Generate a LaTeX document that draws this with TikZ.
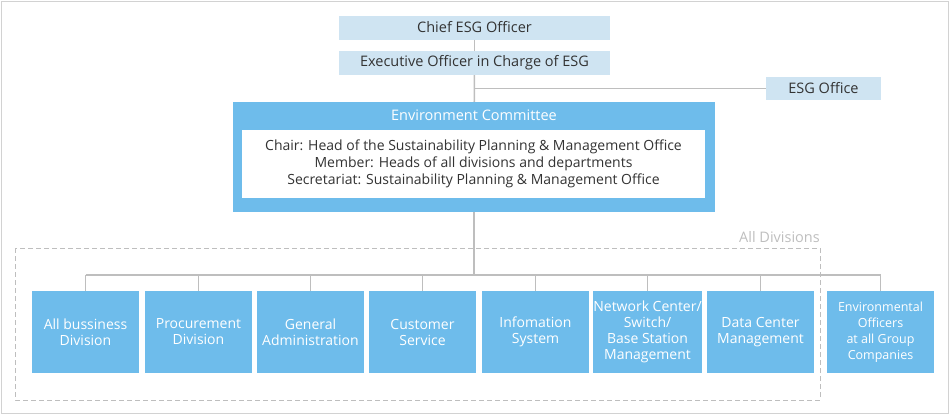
\documentclass[tikz,border=0pt]{standalone}
\usepackage{fontspec}
\setmainfont{Open Sans}
\usepackage{xcolor}
\usepackage{tikz}

\definecolor{esgpale}{HTML}{CFE4F2}
\definecolor{esgblue}{HTML}{6EBCEB}
\definecolor{esgline}{HTML}{BEBEBE}
\definecolor{esgtext}{HTML}{333333}

\begin{document}
\begin{tikzpicture}[x=1pt, y=-1pt,
    officer/.style={fill=esgpale, text=esgtext, minimum width=271pt, minimum height=24pt, inner sep=0pt, font=\fontsize{14.5}{16}\selectfont},
    unit/.style={fill=esgblue, text=white, minimum width=107pt, minimum height=82pt, inner sep=0pt, align=center, font=\fontsize{14}{16}\selectfont},
    link/.style={draw=esgline, line width=1.6pt}]
      \useasboundingbox (0,0) rectangle (950,415);
      \draw[esgline!70, line width=1pt] (1,1) rectangle (948,413);

      \node (chief) [officer] at (474.5,27.5) {Chief ESG Officer};
      \node (exec) [officer] at (474.5,63) {Executive Officer in Charge of ESG};
      \node (office) [officer, minimum width=115pt, minimum height=23pt] at (823.5,88.5) {ESG Office};
      \node (committee) [fill=esgblue, minimum width=482pt, minimum height=110pt] at (474,157) {};
      \node (title) [text=white, font=\fontsize{14.5}{16}\selectfont] at (474,115) {Environment Committee};
      \node (members) [fill=white, text=esgtext, minimum width=463pt, minimum height=68pt, align=center, font=\fontsize{14}{17}\selectfont] at (473.5,164)
        {Chair: Head of the Sustainability Planning \& Management Office\\
         Member: Heads of all divisions and departments\\
         Secretariat: Sustainability Planning \& Management Office};

      \draw[esgline, line width=1pt, dash pattern=on 5pt off 3pt] (15,248) rectangle (820,400);
      \node (alldiv) [anchor=south east, inner sep=0pt, text=esgline, font=\fontsize{14.5}{16}\selectfont] at (820,243) {All Divisions};

      \foreach \n/\x/\t in {u1/85.5/{All bussiness\\Division}, u2/198.5/{Procurement\\Division},
          u3/310.5/{General\\Administration}, u4/422.5/{Customer\\Service}, u5/535.5/{Infomation\\System},
          u6/647.5/{Network Center/\\Switch/\\Base Station\\Management}, u7/760.5/{Data Center\\Management}}
        \node (\n) [unit] at (\x,332) {\t};
      \node (u8) [unit, font=\fontsize{12.5}{16}\selectfont] at (880.5,332) {Environmental\\Officers\\at all Group\\Companies};

      \coordinate (bus) at (474,275);
      \draw[link] (chief) -- (exec);
      \draw[link] (exec) -- (committee);
      \draw[link] (exec.south |- office) -- (office);
      \draw[link] (committee.south) -- (bus);
      \draw[link] (u1.north |- bus) -- (u8.north |- bus);
      \foreach \n in {u1,u2,u3,u4,u5,u6,u7,u8}
        \draw[link] (\n.north |- bus) -- (\n.north);
    \end{tikzpicture}
\end{document}
